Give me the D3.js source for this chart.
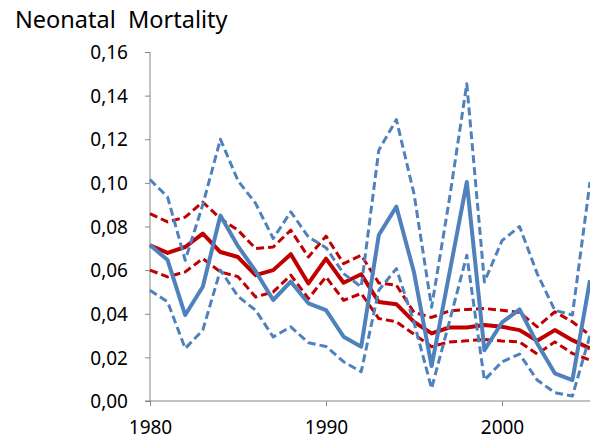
<!DOCTYPE html>
<html>
<head>
<meta charset="utf-8">
<script src="https://cdn.jsdelivr.net/npm/d3@7"></script>
<style>
  body { margin: 0; background: #fff; }
  text { font-family: "Noto Sans", "Open Sans", sans-serif; fill: #000; }
</style>
</head>
<body>
<div class="container"></div>
<script>
const width = 590, height = 441;

// years 1980..2005
const years = d3.range(1980, 2006);
const xTicks = [1980, 1990, 2000];
const yTicks = [0, 0.02, 0.04, 0.06, 0.08, 0.10, 0.12, 0.14, 0.16];

const blueMean = [0.0715, 0.0646, 0.0394, 0.0524, 0.085, 0.071, 0.0595, 0.0463, 0.0547, 0.0448,
  0.0417, 0.0295, 0.0249, 0.0761, 0.0891, 0.059, 0.016, 0.058, 0.1004, 0.0233,
  0.036, 0.042, 0.0264, 0.0127, 0.0096, 0.0554];
const blueUpper = [0.1015, 0.0935, 0.0645, 0.090, 0.120, 0.101, 0.0906, 0.0745, 0.0867, 0.0752,
  0.0703, 0.0584, 0.0523, 0.115, 0.129, 0.095, 0.043, 0.092, 0.1454, 0.0546,
  0.0735, 0.080, 0.0584, 0.0416, 0.0394, 0.1004];
const blueLower = [0.0508, 0.0454, 0.0241, 0.0325, 0.060, 0.048, 0.0416, 0.0294, 0.034, 0.0267,
  0.025, 0.018, 0.0134, 0.0508, 0.0607, 0.036, 0.0058, 0.036, 0.0668, 0.0096,
  0.018, 0.0215, 0.0096, 0.0038, 0.0023, 0.030];
const redMean = [0.0714, 0.0679, 0.0706, 0.0767, 0.0683, 0.066, 0.0577, 0.060, 0.0673, 0.0539,
  0.0653, 0.0542, 0.0581, 0.0454, 0.0444, 0.0363, 0.031, 0.0337, 0.0337, 0.0348,
  0.034, 0.0325, 0.0276, 0.0325, 0.0279, 0.0241];
const redUpper = [0.0859, 0.0821, 0.0843, 0.0912, 0.0836, 0.0783, 0.0699, 0.0706, 0.0783, 0.066,
  0.0756, 0.063, 0.0668, 0.0541, 0.0531, 0.0406, 0.0383, 0.0413, 0.042, 0.0424,
  0.0416, 0.0406, 0.034, 0.0409, 0.0363, 0.0302];
const redLower = [0.060, 0.0569, 0.0592, 0.0653, 0.0592, 0.057, 0.0477, 0.050, 0.0577, 0.047,
  0.0569, 0.0462, 0.0493, 0.0378, 0.0363, 0.0306, 0.0249, 0.0271, 0.0276, 0.0282,
  0.0275, 0.0271, 0.0215, 0.0271, 0.0218, 0.0188];

const BLUE = "#4f81bd", RED = "#c00000", AXIS = "#868686";

const svg = d3.select(".container")
    .append("svg")
    .attr("width", width)
    .attr("height", height);

const x = d3.scaleLinear().domain([1980, 2005]).range([150, 590]);
const y = d3.scaleLinear().domain([0, 0.16]).range([401, 52]);

svg.append("text")
    .attr("x", 15)
    .attr("y", 28)
    .style("font-size", "23.5px")
    .style("white-space", "pre")
    .text("Neonatal  Mortality");

// y axis
const yAxis = svg.append("g")
    .attr("transform", "translate(150,0)")
    .call(d3.axisLeft(y).tickValues(yTicks).tickSize(5).tickPadding(17)
        .tickFormat(d => d3.format(".2f")(d).replace(".", ",")));
yAxis.selectAll("line, path").attr("stroke", AXIS);
yAxis.select("path").attr("d", "M0," + y(0.16) + "V" + y(0));
yAxis.selectAll("text").style("font-size", "19px").attr("dy", "0.35em");

// x axis
const xAxis = svg.append("g")
    .attr("transform", "translate(0,401)")
    .call(d3.axisBottom(x).tickValues(xTicks).tickSize(5).tickPadding(15).tickFormat(d3.format("d")));
xAxis.selectAll("line, path").attr("stroke", AXIS);
xAxis.select("path").attr("d", "M145,0H590");
xAxis.selectAll("text").style("font-size", "19px");

const line = d3.line().x((d, i) => x(years[i])).y(d => y(d));

const series = [
  { values: redUpper, color: RED, dash: "8,4", w: 3 },
  { values: redLower, color: RED, dash: "8,4", w: 3 },
  { values: redMean, color: RED, dash: null, w: 4 },
  { values: blueUpper, color: BLUE, dash: "8,4", w: 3 },
  { values: blueLower, color: BLUE, dash: "8,4", w: 3 },
  { values: blueMean, color: BLUE, dash: null, w: 4 }
];

svg.append("g")
    .selectAll("path")
    .data(series)
    .enter()
    .append("path")
    .attr("d", d => line(d.values))
    .attr("fill", "none")
    .attr("stroke", d => d.color)
    .attr("stroke-width", d => d.w)
    .attr("stroke-dasharray", d => d.dash)
    .attr("stroke-linejoin", "round");
</script>
</body>
</html>
